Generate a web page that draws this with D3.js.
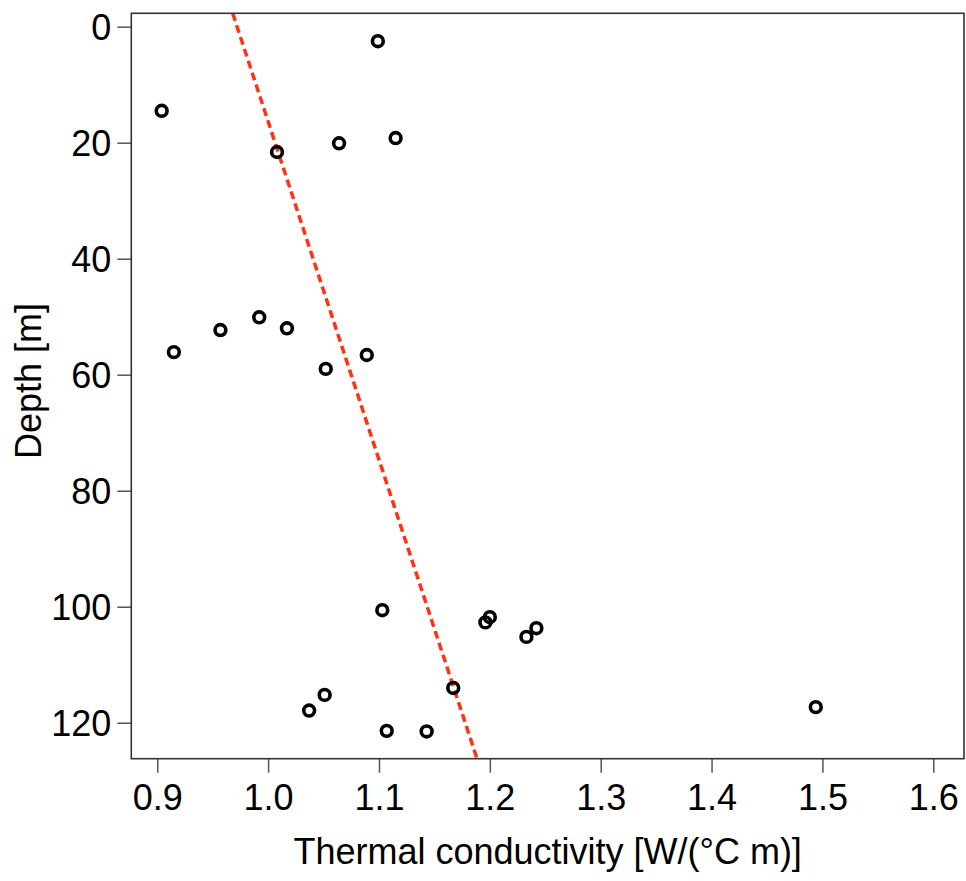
<!DOCTYPE html>
<html>
<head>
<meta charset="utf-8">
<script src="https://cdn.jsdelivr.net/npm/d3@7"></script>
<style>
  html, body { margin: 0; padding: 0; background: #fff; }
  svg { display: block; font-family: "Liberation Sans", Arial, sans-serif; }
</style>
</head>
<body>
<svg id="chart" width="966" height="881"></svg>
<script>
// Data
const conductivity = [1.099, 0.904, 1.008, 1.064, 1.115, 0.915, 0.957, 0.992, 1.017, 1.052, 1.089,
                      1.103, 1.196, 1.200, 1.233, 1.242, 1.037, 1.051, 1.107, 1.143, 1.167, 1.494];
const depth = [2.5, 14.5, 21.6, 20.1, 19.2, 56.1, 52.3, 50.1, 52.0, 59.0, 56.6,
               100.6, 102.7, 101.8, 105.2, 103.7, 117.9, 115.2, 121.4, 121.5, 114.0, 117.3];
const xTicks = [0.9, 1.0, 1.1, 1.2, 1.3, 1.4, 1.5, 1.6];
const yTicks = [0, 20, 40, 60, 80, 100, 120];
const fitIntercept = 0.972;   // conductivity at depth 0
const fitSlope = 0.001715;    // change per metre
const xDomain = [0.8766, 1.6277];
const yDomain = [-2.31, 126.2];
const xLabel = "Thermal conductivity [W/(°C m)]";
const yLabel = "Depth [m]";

const svg = d3.select("#chart");
const m = { left: 131.3, right: 964, top: 13.3, bottom: 758.7 };
const x = d3.scaleLinear().domain(xDomain).range([m.left, m.right]);
const y = d3.scaleLinear().domain(yDomain).range([m.top, m.bottom]);

// regression line
const lineData = yDomain.map(d => ({ d: d, k: fitIntercept + fitSlope * d }));
svg.append("path")
  .datum(lineData)
  .attr("d", d3.line().x(p => x(p.k)).y(p => y(p.d)))
  .attr("fill", "none")
  .attr("stroke", "#ff3214")
  .attr("stroke-width", 3.5)
  .attr("stroke-dasharray", "8,4.5");

// points
svg.append("g").selectAll("circle")
  .data(conductivity.map((c, i) => ({ c: c, d: depth[i] })))
  .join("circle")
  .attr("cx", p => x(p.c))
  .attr("cy", p => y(p.d))
  .attr("r", 5.4)
  .attr("fill", "none")
  .attr("stroke", "#000")
  .attr("stroke-width", 3.6);

// axes
const xAxis = svg.append("g")
  .attr("transform", `translate(0,${m.bottom})`)
  .call(d3.axisBottom(x).tickValues(xTicks).tickFormat(d3.format(".1f")).tickSize(14).tickPadding(12));
const yAxis = svg.append("g")
  .attr("transform", `translate(${m.left},0)`)
  .call(d3.axisLeft(y).tickValues(yTicks).tickFormat(d3.format("d")).tickSize(14).tickPadding(6));
[xAxis, yAxis].forEach(g => {
  g.select(".domain").remove();
  g.selectAll(".tick line").attr("stroke", "#555").attr("stroke-width", 1.5);
  g.selectAll(".tick text").attr("fill", "#000").style("font-size", "36px");
});
yAxis.selectAll(".tick text").attr("dy", "0.36em");

// frame
svg.append("rect")
  .attr("x", m.left).attr("y", m.top)
  .attr("width", m.right - m.left).attr("height", m.bottom - m.top)
  .attr("fill", "none").attr("stroke", "#333").attr("stroke-width", 1.6);

// axis titles
svg.append("text")
  .attr("x", (m.left + m.right) / 2)
  .attr("y", 864)
  .attr("text-anchor", "middle")
  .style("font-size", "36px")
  .text(xLabel);
svg.append("text")
  .attr("transform", `translate(41,${(m.top + m.bottom) / 2 - 5}) rotate(-90)`)
  .attr("text-anchor", "middle")
  .style("font-size", "36px")
  .text(yLabel);
</script>
</body>
</html>
